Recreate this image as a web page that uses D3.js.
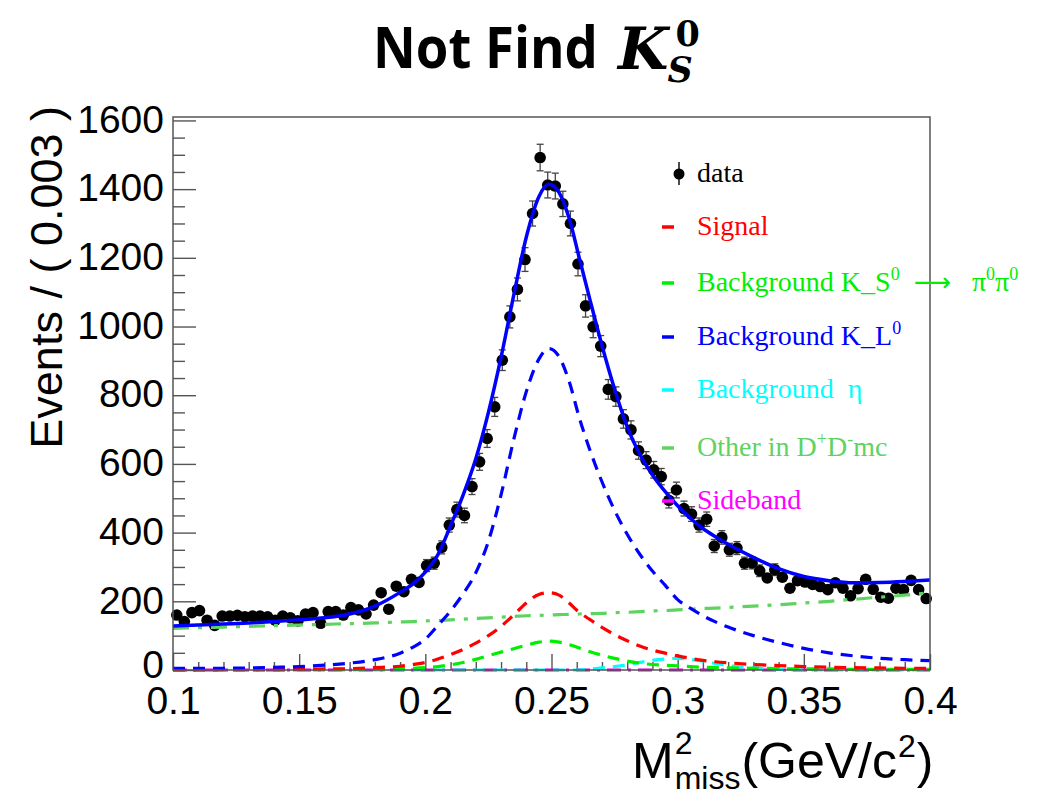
<!DOCTYPE html>
<html>
<head>
<meta charset="utf-8">
<script src="https://cdn.jsdelivr.net/npm/d3@7"></script>
<style>
  body { margin: 0; background: #fff; }
  svg { display: block; }
  text { white-space: pre; }
</style>
</head>
<body>
<svg id="chart" width="1038" height="795"></svg>
<script>
// Missing-mass-squared spectrum: 100 bins of width 0.003 GeV^2/c^4 on [0.1, 0.4]
const binLow = 0.1;
const binWidth = 0.003;
const counts = [
  160, 141, 167, 173, 145, 130, 157, 157, 159, 155,
  157, 157, 155, 145, 157, 152, 143, 163, 167, 136,
  170, 170, 160, 182, 175, 163, 189, 225, 177, 244,
  228, 264, 255, 304, 311, 357, 422, 467, 450, 534,
  606, 674, 766, 902, 1028, 1108, 1195, 1329, 1492, 1412,
  1409, 1357, 1300, 1182, 1060, 999, 943, 817, 796, 731,
  699, 639, 611, 583, 563, 494, 524, 470, 454, 422,
  439, 361, 386, 350, 355, 311, 312, 289, 268, 292,
  270, 238, 260, 256, 249, 243, 234, 254, 238, 216,
  237, 264, 235, 212, 209, 238, 234, 261, 234, 208
];

// Fit components sampled along M^2_miss
const curveX = [
  0.100, 0.110, 0.120, 0.130, 0.140, 0.150, 0.160, 0.170, 0.180, 0.190,
  0.195, 0.200, 0.205, 0.210, 0.215, 0.220, 0.225, 0.230, 0.235, 0.240,
  0.245, 0.249, 0.253, 0.257, 0.261, 0.265, 0.270, 0.275, 0.280, 0.285,
  0.290, 0.295, 0.300, 0.305, 0.310, 0.315, 0.320, 0.330, 0.340, 0.350,
  0.360, 0.370, 0.380, 0.390, 0.400
];
const fitTotal = [
  128, 131, 134, 137, 141, 146, 152, 163, 186, 226,
  250, 285, 336, 420, 510, 615, 750, 910, 1090, 1260,
  1378, 1414, 1390, 1315, 1200, 1085, 945, 818, 708, 628,
  568, 520, 478, 442, 412, 388, 366, 328, 295, 272,
  260, 254, 255, 258, 262
];
const bkgKL = [
  5, 5, 5, 6, 8, 10, 14, 20, 30, 49,
  66, 90, 130, 172, 222, 283, 375, 510, 670, 810,
  905, 936, 912, 840, 735, 645, 548, 465, 395, 337,
  288, 247, 205, 180, 158, 140, 125, 100, 80, 63,
  50, 41, 34, 30, 27
];
const signal = [
  0, 0, 1, 1, 1, 2, 3, 4, 7, 11,
  16, 22, 32, 45, 60, 78, 100, 127, 160, 195,
  220, 225, 218, 195, 168, 148, 124, 103, 85, 70,
  58, 49, 41, 34, 28, 24, 21, 16, 13, 10,
  8, 7, 6, 5, 5
];
const bkgKS = [
  0, 0, 0, 0, 0, 1, 1, 2, 3, 4,
  5, 7, 10, 15, 22, 31, 42, 52, 62, 72,
  81, 84, 81, 74, 64, 54, 43, 34, 26, 20,
  16, 14, 12, 10, 8, 7, 6, 5, 4, 3,
  3, 2, 2, 2, 2
];
const bkgEta = [
  0, 0, 0, 0, 0, 0, 0, 0, 0, 0,
  0, 0, 0, 0, 0, 0, 0, 0, 0, 0,
  0, 0, 0, 0, 0, 2, 6, 10, 15, 22,
  28, 32, 34, 31, 26, 19, 13, 6, 2, 0,
  0, 0, 0, 0, 0
];
const bkgOther = [
  121, 123, 125, 127, 129, 131, 133, 135, 137, 140,
  141, 143, 144, 146, 148, 150, 152, 154, 156, 158,
  159, 160, 161, 162, 163, 164, 165, 167, 168, 170,
  172, 173, 175, 177, 179, 180, 182, 186, 190, 195,
  200, 206, 212, 218, 225
];
const sideband = [
  0, 0, 0, 0, 0, 0, 0, 0, 0, 0,
  0, 0, 0, 0, 0, 0, 0, 0, 0, 0,
  0, 0, 0, 0, 0, 0, 0, 0, 0, 0,
  0, 0, 0, 0, 0, 0, 0, 0, 0, 0,
  0, 0, 0, 0, 0
];

// Axis ticks
const xMajorTicks = [0.1, 0.15, 0.2, 0.25, 0.3, 0.35, 0.4];
const xTickLabels = ["0.1", "0.15", "0.2", "0.25", "0.3", "0.35", "0.4"];
const yMajorTicks = [0, 200, 400, 600, 800, 1000, 1200, 1400, 1600];
const yTickLabels = ["0", "200", "400", "600", "800", "1000", "1200", "1400", "1600"];

const svg = d3.select("#chart");
const frame = { left: 173, right: 930, top: 117, bottom: 670 };

const x = d3.scaleLinear().domain([0.1, 0.4]).range([frame.left, frame.right]);
const y = d3.scaleLinear().domain([0, 1610]).range([frame.bottom, frame.top]);

const axisColor = "#555";
const sans = "'Liberation Sans', Arial, sans-serif";
const serif = "'Liberation Serif', 'Times New Roman', serif";

svg.append("rect").attr("width", 1038).attr("height", 795).attr("fill", "#fff");

// ---------- Title ----------
const title = svg.append("g");
const tMain = title.append("text")
  .attr("x", 0).attr("y", 0)
  .attr("font-family", "'Open Sans', 'Noto Sans', sans-serif")
  .attr("font-weight", 700)
  .attr("font-size", 58)
  .attr("fill", "#000")
  .text("Not Find");
const tMainW = tMain.node().getComputedTextLength();
const mainScale = Math.min(1, 225 / tMainW);
tMain.attr("transform", `translate(373,68) scale(${mainScale},1)`);
const kx = 373 + tMainW * mainScale + 20;
const tK = title.append("text")
  .attr("x", kx).attr("y", 69)
  .attr("font-family", "'DejaVu Serif', 'Liberation Serif', serif")
  .attr("font-style", "italic").attr("font-weight", 700)
  .attr("font-size", 58)
  .text("K");
const kW = tK.node().getComputedTextLength();
title.append("text")
  .attr("x", kx + kW + 7).attr("y", 46)
  .attr("font-family", "'DejaVu Serif', 'Liberation Serif', serif")
  .attr("font-weight", 700)
  .attr("font-size", 35)
  .text("0");
title.append("text")
  .attr("x", kx + kW - 1).attr("y", 82)
  .attr("font-family", "'DejaVu Serif', 'Liberation Serif', serif")
  .attr("font-style", "italic").attr("font-weight", 700)
  .attr("font-size", 35)
  .text("S");

// ---------- Axes ----------
const plot = svg.append("g");

svg.append("defs").append("clipPath").attr("id", "plotClip")
  .append("rect")
  .attr("x", frame.left).attr("y", frame.top)
  .attr("width", frame.right - frame.left).attr("height", frame.bottom - frame.top + 3);

const xMinor = d3.range(11, 40).map(d => d / 100).filter(v => !xMajorTicks.some(m => Math.abs(m - v) < 1e-9));
const yMinor = d3.range(0, 1601, 50).filter(v => v % 200 !== 0);

const xAxis = d3.axisBottom(x)
  .tickValues(xMajorTicks)
  .tickFormat((d, i) => xTickLabels[i])
  .tickSizeInner(-16).tickSizeOuter(0).tickPadding(16);
const xAxisMinor = d3.axisBottom(x)
  .tickValues(xMinor).tickFormat("")
  .tickSizeInner(-8).tickSizeOuter(0);

const yAxis = d3.axisLeft(y)
  .tickValues(yMajorTicks)
  .tickFormat((d, i) => yTickLabels[i])
  .tickSizeInner(-23).tickSizeOuter(0).tickPadding(9);
const yAxisMinor = d3.axisLeft(y)
  .tickValues(yMinor).tickFormat("")
  .tickSizeInner(-12).tickSizeOuter(0);

function styleAxis(g) {
  g.select(".domain").remove();
  g.selectAll(".tick line").attr("stroke", axisColor).attr("stroke-width", 1.4);
  g.selectAll(".tick text")
    .attr("font-family", sans)
    .attr("font-size", 39)
    .attr("fill", "#000");
}

plot.append("g").attr("transform", `translate(0,${frame.bottom})`).call(xAxisMinor).call(styleAxis);
const gx = plot.append("g").attr("transform", `translate(0,${frame.bottom})`).call(xAxis).call(styleAxis);
gx.selectAll(".tick text").attr("dy", "0.72em");
plot.append("g").attr("transform", `translate(${frame.left},0)`).call(yAxisMinor).call(styleAxis);
const gy = plot.append("g").attr("transform", `translate(${frame.left},0)`).call(yAxis).call(styleAxis);
// the zero label sits a little higher so it clears the x-axis labels
gy.selectAll(".tick text").attr("dy", d => d === 0 ? "0.2em" : "0.3em");

// ---------- Data with Poisson error bars ----------
const binCenters = counts.map((c, i) => binLow + (i + 0.5) * binWidth);
const markerR = 5.8;
const dataG = plot.append("g");
counts.forEach((c, i) => {
  const cx = x(binCenters[i]);
  const cy = y(c);
  const err = Math.sqrt(c);
  const yTop = y(c + err), yBot = y(c - err);
  if (cy - yTop > markerR) {
    dataG.append("line").attr("x1", cx).attr("x2", cx).attr("y1", yTop).attr("y2", cy - markerR)
      .attr("stroke", "#444").attr("stroke-width", 1.3);
    dataG.append("line").attr("x1", cx - 3.5).attr("x2", cx + 3.5).attr("y1", yTop).attr("y2", yTop)
      .attr("stroke", "#444").attr("stroke-width", 1.3);
  }
  if (yBot - cy > markerR) {
    dataG.append("line").attr("x1", cx).attr("x2", cx).attr("y1", cy + markerR).attr("y2", yBot)
      .attr("stroke", "#444").attr("stroke-width", 1.3);
    dataG.append("line").attr("x1", cx - 3.5).attr("x2", cx + 3.5).attr("y1", yBot).attr("y2", yBot)
      .attr("stroke", "#444").attr("stroke-width", 1.3);
  }
});
dataG.selectAll("circle").data(counts).join("circle")
  .attr("cx", (d, i) => x(binCenters[i]))
  .attr("cy", d => y(d))
  .attr("r", markerR)
  .attr("fill", "#000");

// ---------- Fit curves ----------
const line = d3.line()
  .x(d => x(d[0]))
  .y(d => y(d[1]))
  .curve(d3.curveMonotoneX);

const curves = [
  { values: sideband, color: "#d000d0", dash: "14 7 3 7", width: 3 },
  { values: bkgEta,   color: "#00ffff", dash: "12 8", width: 3.2 },
  { values: bkgOther, color: "#5fd35f", dash: "16 9 4 9", width: 3.2 },
  { values: bkgKS,    color: "#00ee00", dash: "12 8", width: 3.2 },
  { values: signal,   color: "#ff0000", dash: "12 8", width: 3.2 },
  { values: bkgKL,    color: "#0000ff", dash: "12 8", width: 3.2 },
  { values: fitTotal, color: "#0000ff", dash: null, width: 3.5 }
];
const curveG = plot.append("g").attr("clip-path", "url(#plotClip)");
curves.forEach(c => {
  curveG.append("path")
    .datum(curveX.map((xv, i) => [xv, c.values[i]]))
    .attr("d", line)
    .attr("fill", "none")
    .attr("stroke", c.color)
    .attr("stroke-width", c.width)
    .attr("stroke-dasharray", c.dash);
});

// ---------- Frame ----------
plot.append("rect")
  .attr("x", frame.left).attr("y", frame.top)
  .attr("width", frame.right - frame.left).attr("height", frame.bottom - frame.top)
  .attr("fill", "none").attr("stroke", axisColor).attr("stroke-width", 1.5);

// ---------- Axis titles ----------
const xt = svg.append("g").attr("font-family", sans).attr("fill", "#000");
const xt0 = 632;
const xtM = xt.append("text").attr("x", xt0).attr("y", 778).attr("font-size", 50).text("M");
const mW = xtM.node().getComputedTextLength();
const xtSup = xt.append("text").attr("x", xt0 + mW + 1).attr("y", 754).attr("font-size", 32).text("2");
const xtSub = xt.append("text").attr("x", xt0 + mW + 1).attr("y", 789).attr("font-size", 32).text("miss");
const scriptW = Math.max(xtSup.node().getComputedTextLength(), xtSub.node().getComputedTextLength());
const x2 = xt0 + mW + 1 + scriptW + 1;
const xtRest = xt.append("text").attr("x", x2).attr("y", 778).attr("font-size", 50).text("(GeV/c");
const restW = xtRest.node().getComputedTextLength();
const xtSup2 = xt.append("text").attr("x", x2 + restW + 1).attr("y", 757).attr("font-size", 32).text("2");
const sup2W = xtSup2.node().getComputedTextLength();
xt.append("text").attr("x", x2 + restW + sup2W + 2).attr("y", 778).attr("font-size", 50).text(")");

svg.append("text")
  .attr("transform", "translate(62,106) rotate(-90)")
  .attr("text-anchor", "end")
  .attr("font-family", sans)
  .attr("font-size", 45)
  .attr("fill", "#000")
  .text("Events / ( 0.003 )");

// ---------- Legend ----------
const legend = svg.append("g").attr("font-family", serif).attr("font-size", 28);
const legendTextX = 697;
const entries = [
  { label: "data", color: "#000", base: 182, kind: "point" },
  { label: "Signal", color: "#ff0000", base: 235, kind: "line" },
  { label: "Background K_S", color: "#00ee00", base: 291, kind: "line", extra: "ks" },
  { label: "Background K_L", color: "#0000ff", base: 345, kind: "line", extra: "kl" },
  { label: "Background  \u03b7", color: "#00ffff", base: 398, kind: "line" },
  { label: "Other in D", color: "#5fd35f", base: 456, kind: "line", extra: "dd" },
  { label: "Sideband", color: "#ff00ff", base: 509, kind: "line" }
];
entries.forEach(e => {
  const midY = e.base - 8;
  if (e.kind === "point") {
    legend.append("line").attr("x1", 679).attr("x2", 679).attr("y1", midY - 12).attr("y2", midY + 11)
      .attr("stroke", "#000").attr("stroke-width", 1.4);
    legend.append("circle").attr("cx", 679).attr("cy", midY).attr("r", 5.5).attr("fill", "#000");
  } else {
    legend.append("line").attr("x1", 662).attr("x2", 674).attr("y1", midY).attr("y2", midY)
      .attr("stroke", e.color).attr("stroke-width", 3.5);
  }
  const t = legend.append("text").attr("x", legendTextX).attr("y", e.base).attr("fill", e.color);
  t.append("tspan").text(e.label);
  if (e.extra === "ks") {
    t.append("tspan").attr("dy", -11).attr("font-size", 18).text("0");
    t.append("tspan").attr("dy", 11).text("  ");
    t.append("tspan").attr("font-family", "'DejaVu Sans', sans-serif").attr("font-size", 26).text("\u27f6");
    t.append("tspan").text("   \u03c0");
    t.append("tspan").attr("dy", -11).attr("font-size", 18).text("0");
    t.append("tspan").attr("dy", 11).text("\u03c0");
    t.append("tspan").attr("dy", -11).attr("font-size", 18).text("0");
  } else if (e.extra === "kl") {
    t.append("tspan").attr("dy", -11).attr("font-size", 18).text("0");
  } else if (e.extra === "dd") {
    t.append("tspan").attr("dy", -11).attr("font-size", 18).text("+");
    t.append("tspan").attr("dy", 11).text("D");
    t.append("tspan").attr("dy", -11).attr("font-size", 18).text("-");
    t.append("tspan").attr("dy", 11).text("mc");
  }
});
</script>
</body>
</html>
